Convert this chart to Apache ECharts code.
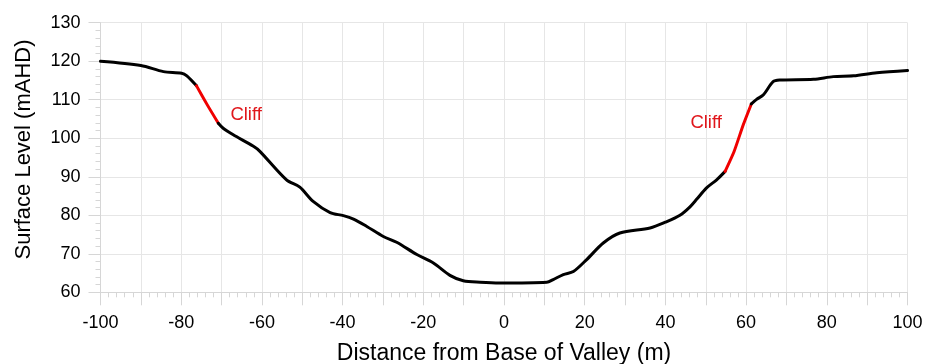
<!DOCTYPE html>
<html>
<head>
<meta charset="utf-8">
<script src="https://cdn.jsdelivr.net/npm/echarts@6/dist/echarts.min.js"></script>
<style>
  html, body { margin: 0; padding: 0; background: #fff; }
  #chart { width: 934px; height: 364px; }
</style>
</head>
<body>
<div id="chart"></div>
<script>
// Valley cross-section profile: distance from valley base (m) vs surface level (mAHD)
// West slope, down to the western cliff top
const westX = [-100, -90, -84.4, -79.9, -78.6, -76.2];
const westY = [120.0, 118.9, 117.3, 116.9, 116.2, 113.6];
// Western cliff face
const cliffWestX = [-76.2, -73.5, -70.8];
const cliffWestY = [113.6, 108.6, 103.9];
// Valley floor between the cliffs
const floorX = [-70.8, -69.6, -67.1, -62.1, -60.5, -53.9, -50.6, -47.3, -43.1, -39.8, -37.3, -34.0,
  -29.9, -26.6, -21.6, -17.5, -13.4, -10.1, -5.9, -1.0, 10.6, 12.2, 14.7, 17.2, 20.5, 24.6, 28.7,
  36.2, 40.0, 43.6, 46.1, 47.8, 50.2, 52.7, 54.8];
const floorY = [103.9, 102.6, 100.9, 97.9, 96.6, 89.2, 87.3, 83.6, 80.7, 79.9, 79.0, 77.1,
  74.5, 73.0, 69.8, 67.6, 64.4, 63.0, 62.6, 62.4, 62.6, 63.3, 64.6, 65.4, 68.5, 72.8, 75.4,
  76.7, 78.2, 80.0, 82.2, 84.2, 87.1, 89.2, 91.4];
// Eastern cliff face
const cliffEastX = [54.8, 57.0, 59.3, 61.3];
const cliffEastY = [91.4, 96.5, 103.5, 108.9];
// East slope, from the eastern cliff top
const eastX = [61.3, 62.6, 64.3, 66.7, 68.4, 76.7, 81.6, 86.6, 92.4, 100];
const eastY = [108.9, 110.1, 111.3, 114.7, 115.1, 115.3, 116.0, 116.2, 117.0, 117.6];

// Label anchors for the cliff annotations
const cliffLabels = [
  { name: 'Cliff', x: -63.9, y: 106.0 },
  { name: 'Cliff', x: 50.1, y: 104.0 }
];

const xTicks = { min: -100, max: 100, step: 10 };
const yTicks = { min: 60, max: 130, step: 10 };

const zip = (xs, ys) => xs.map((x, i) => [x, ys[i]]);

const axisGrey = '#d6d6d6';
const gridGrey = '#e6e6e6';
const font = '"Liberation Sans", Arial, sans-serif';
const black = '#000';
const red = '#f00000';

function profile(xs, ys, color, extra) {
  return Object.assign({
    type: 'line',
    data: zip(xs, ys),
    smooth: 0.3,
    symbol: 'none',
    lineStyle: { color: color, width: 3, cap: 'round', join: 'round' },
    z: 3
  }, extra || {});
}

const chart = echarts.init(document.getElementById('chart'), null, { renderer: 'canvas' });
chart.setOption({
  animation: false,
  backgroundColor: '#fff',
  grid: {
    left: 100.5, right: 26.5, top: 22.7, bottom: 71.7,
    containLabel: false, outerBoundsMode: 'none'
  },
  xAxis: {
    type: 'value',
    min: xTicks.min, max: xTicks.max, interval: xTicks.step,
    name: 'Distance from Base of Valley (m)',
    nameLocation: 'middle', nameGap: 50,
    nameTextStyle: { fontFamily: font, fontSize: 23, color: black },
    axisLine: { show: true, onZero: false, lineStyle: { color: axisGrey, width: 1 } },
    axisTick: { show: true, length: 13, lineStyle: { color: axisGrey } },
    minorTick: { show: true, splitNumber: 5, length: 5, lineStyle: { color: axisGrey } },
    axisLabel: {
      fontFamily: font, fontSize: 18, color: black, margin: 22,
      formatter: v => (v % 20 === 0 ? String(v) : '')
    },
    splitLine: { show: true, lineStyle: { color: gridGrey, width: 1 } }
  },
  yAxis: {
    type: 'value',
    min: yTicks.min, max: yTicks.max, interval: yTicks.step,
    name: 'Surface Level (mAHD)',
    nameLocation: 'middle', nameGap: 66, nameRotate: 90,
    nameTextStyle: { fontFamily: font, fontSize: 22, color: black, padding: [0, 0, 0, 16] },
    axisLine: { show: true, onZero: false, lineStyle: { color: axisGrey, width: 1 } },
    axisTick: { show: true, length: 12, lineStyle: { color: axisGrey } },
    minorTick: { show: true, splitNumber: 5, length: 5, lineStyle: { color: axisGrey } },
    axisLabel: { fontFamily: font, fontSize: 18, color: black, margin: 20 },
    splitLine: { show: true, lineStyle: { color: gridGrey, width: 1 } }
  },
  series: [
    profile(westX, westY, black),
    profile(cliffWestX, cliffWestY, red, { smooth: 0.2 }),
    profile(floorX, floorY, black, {
      markPoint: {
        symbol: 'rect',
        symbolSize: 1,
        itemStyle: { color: 'rgba(0,0,0,0)' },
        label: {
          show: true, position: 'inside',
          fontFamily: font, fontSize: 18.5, color: '#e0161b',
          formatter: p => p.name
        },
        data: cliffLabels.map(c => ({ name: c.name, coord: [c.x, c.y] }))
      }
    }),
    profile(cliffEastX, cliffEastY, red, { smooth: 0.2 }),
    profile(eastX, eastY, black)
  ]
});
</script>
</body>
</html>
